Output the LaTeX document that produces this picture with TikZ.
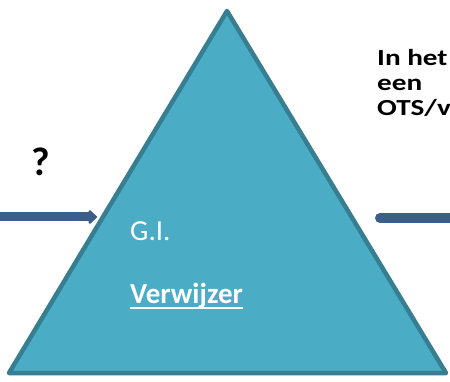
\documentclass[tikz,border=0pt]{standalone}
\usepackage{fontspec}
\setmainfont{Carlito}
\usetikzlibrary{arrows.meta}
\definecolor{trifill}{HTML}{4BACC6}
\definecolor{triline}{HTML}{377E91}
\definecolor{arrblue}{HTML}{3B5E8B}
\tikzset{
  tri/.style={fill=trifill, draw=triline, line width=4.5pt, line join=round},
  flow/.style={draw=arrblue, line width=9pt},
  lbl/.style={anchor=base west, inner sep=0pt, text=white, font=\fontsize{29}{34}\selectfont},
  side/.style={anchor=base west, inner sep=0pt, font=\bfseries\fontsize{23}{25}\selectfont}
}
\newcommand{\widetext}[1]{\scalebox{1.27}[1]{#1}}
\begin{document}
\begin{tikzpicture}[x=1pt,y=-1pt]
\useasboundingbox (0,0) rectangle (450,382);
\clip (0,0) rectangle (450,382);
\fill[white] (0,0) rectangle (450,382);
\draw[tri] (227,11) -- (9,373) -- (446,373) -- cycle;
\node[lbl] (gi) at (130,240.7) {G.I.};
\node[lbl, font=\bfseries\fontsize{29}{34}\selectfont] (vw) at (130,304) {Verwijzer};
\draw[white, line width=2pt] ([yshift=-4pt]vw.base west) -- ([yshift=-4pt]vw.base east);
\node[side, font=\bfseries\fontsize{40}{40}\selectfont] (q) at (31,176) {?};
\node[side] (t1) at (377,65.5) {\widetext{In het}};
\node[side] (t2) at (377,90.5) {\widetext{een}};
\node[side] (t3) at (377,116) {\widetext{OTS/v}};
\coordinate (lA) at (-5,217);
\coordinate (lB) at (97,217);
\draw[flow, -{Triangle[length=9pt,width=16pt,round]}] (lA) -- (lB);
\coordinate (rA) at (380,218);
\coordinate (rB) at (470,218);
\draw[flow, line width=10pt, line cap=round] (rA) -- (rB);
\end{tikzpicture}
\end{document}
